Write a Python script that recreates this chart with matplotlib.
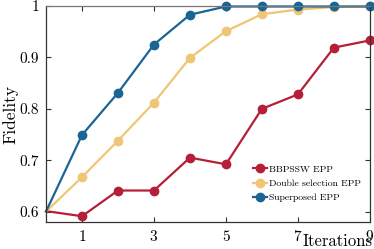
import matplotlib
matplotlib.use('Agg')
import matplotlib.pyplot as plt

# data
iterations = [0, 1, 2, 3, 4, 5, 6, 7, 8, 9]
bbpssw = [0.601, 0.591, 0.641, 0.641, 0.705, 0.692, 0.800, 0.828, 0.919, 0.933]
double_sel = [0.600, 0.667, 0.738, 0.812, 0.899, 0.951, 0.984, 0.993, 0.998, 0.999]
superposed = [0.600, 0.749, 0.831, 0.925, 0.983, 0.999, 0.999, 0.999, 0.999, 0.999]
labels = ['BBPSSW EPP', 'Double selection EPP', 'Superposed EPP']
colors = ['#B51F38', '#EFC676', '#1B6595']

y_ticks = [0.6, 0.7, 0.8, 0.9, 1.0]
y_tick_labels = ['0.6', '0.7', '0.8', '0.9', '1']
x_ticks = [1, 3, 5, 7, 9]

plt.rcParams['font.family'] = 'serif'
plt.rcParams['font.serif'] = ['cmr10']
plt.rcParams['mathtext.fontset'] = 'cm'
plt.rcParams['axes.formatter.use_mathtext'] = True

fig = plt.figure(figsize=(3.74, 2.49), dpi=100)
ax = fig.add_axes([0.123, 0.11, 0.866, 0.866])

for ys, lab, c in zip([bbpssw, double_sel, superposed], labels, colors):
	ax.plot(iterations, ys, color=c, lw=1.6, marker='o', ms=6,
		markevery=list(range(1, len(iterations))), clip_on=False, label=lab)

ax.set_xlim(0, 9)
ax.set_ylim(0.5805, 1.0)
ax.set_xticks(x_ticks)
ax.set_yticks(y_ticks)
ax.set_yticklabels(y_tick_labels)
ax.tick_params(direction='in', top=True, right=True, labelsize=11, length=3.5,
	color='#333333', pad=5)
for s in ax.spines.values():
	s.set_color('#333333')
	s.set_linewidth(0.9)
ax.spines['top'].set_color('#777777')

# axis labels placed by hand, like the original
fig.text(0.006, 0.54, 'Fidelity', rotation=90, ha='left', va='center', fontsize=12.5)
fig.text(0.996, 0.012, 'Iterations', ha='right', va='baseline', fontsize=12)

ax.legend(loc='lower right', bbox_to_anchor=(1.0, 0.05), frameon=False,
	fontsize=7, handlelength=1.5, handletextpad=0.2, labelspacing=0.55,
	markerscale=1.0)

fig.savefig('out.png', dpi=100)
